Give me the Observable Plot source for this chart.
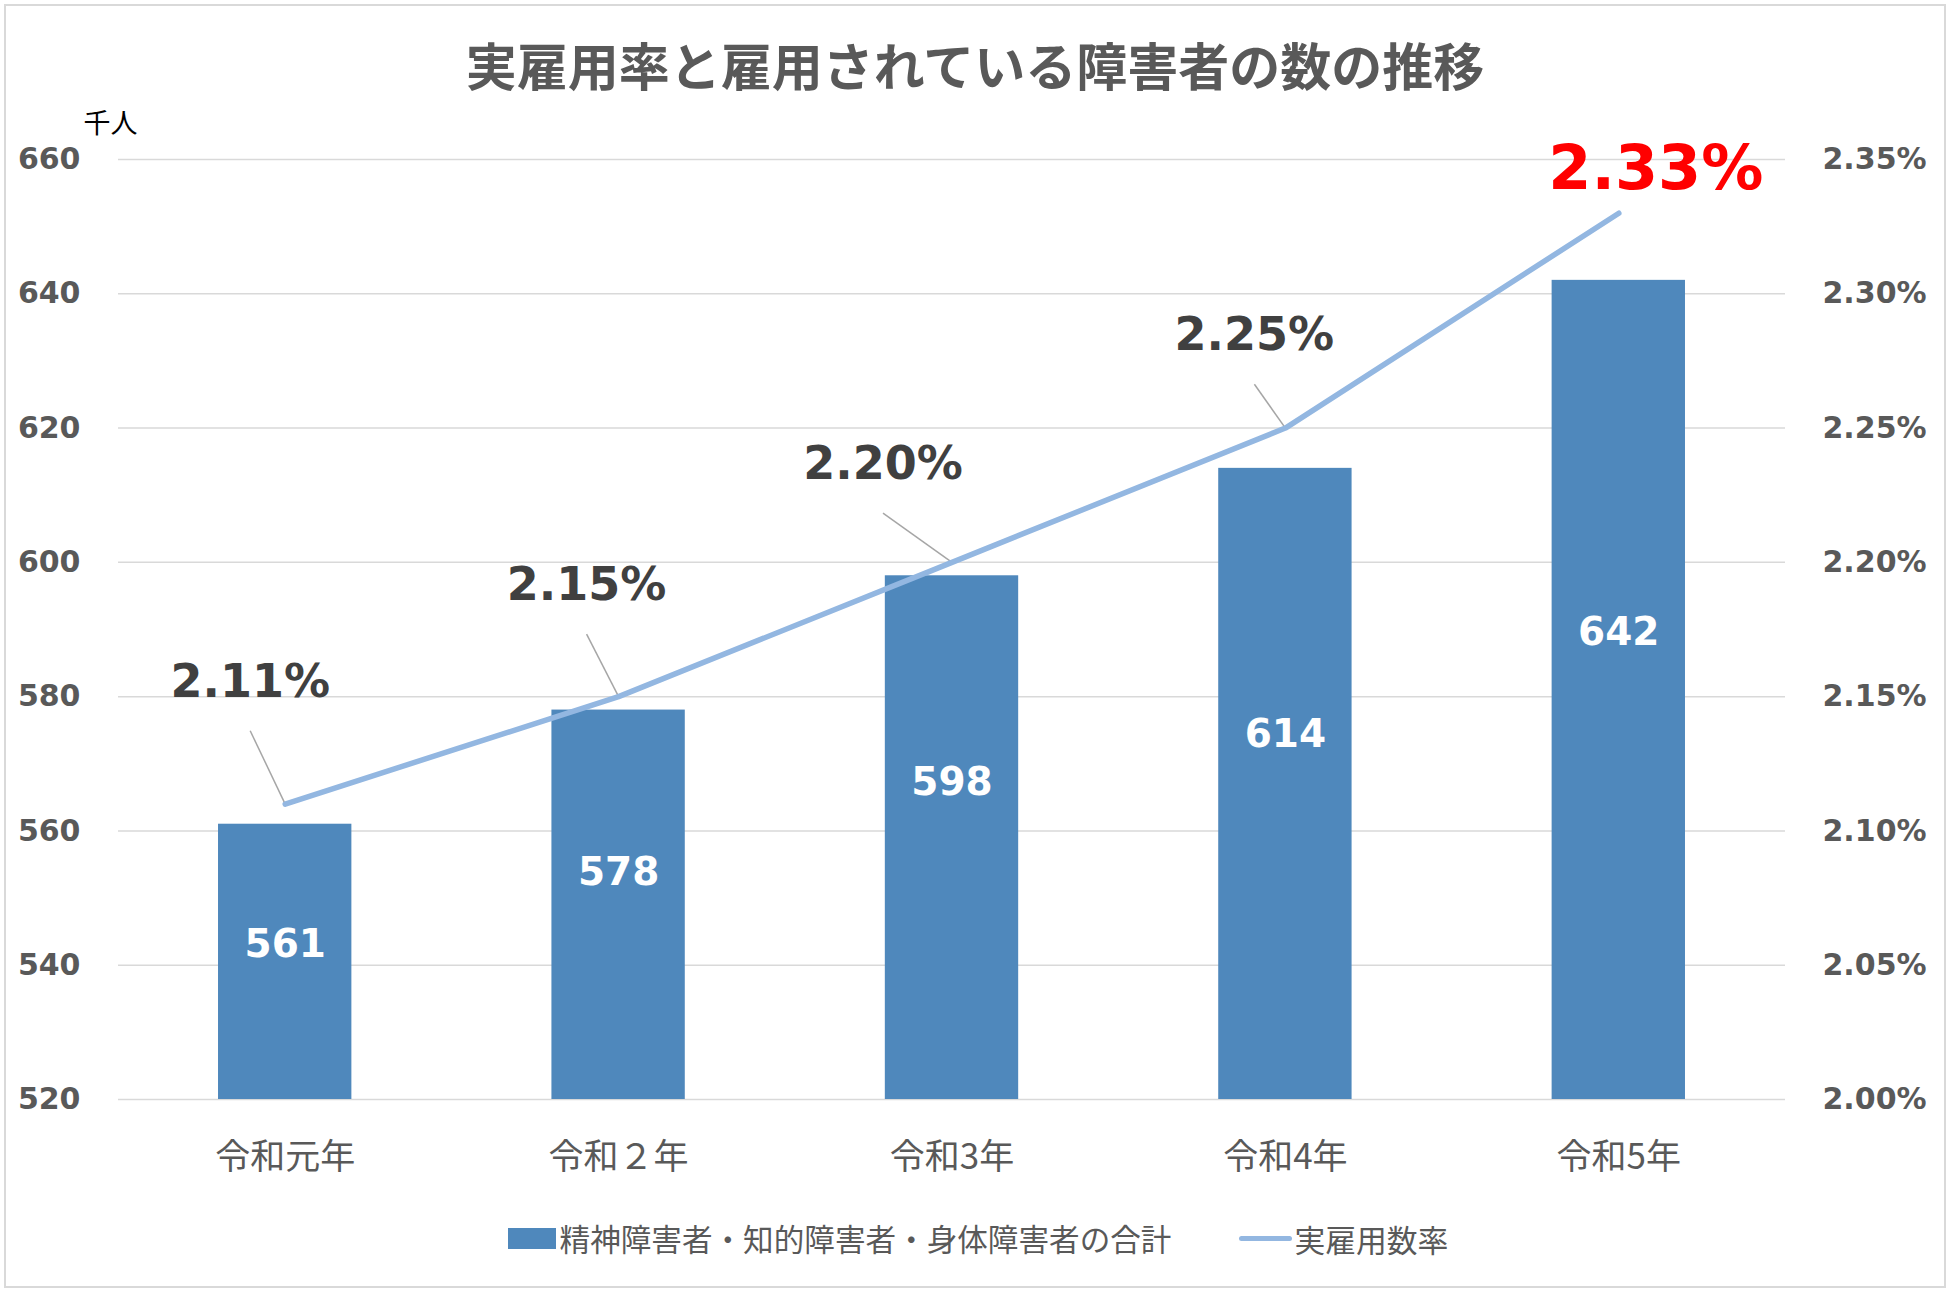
<!DOCTYPE html>
<html lang="ja">
<head>
<meta charset="utf-8">
<script src="https://cdn.jsdelivr.net/npm/d3@7"></script>
<script src="https://cdn.jsdelivr.net/npm/@observablehq/plot@0.6"></script>
<style>
  html, body { margin: 0; padding: 0; background: #fff; }
  #page { position: relative; width: 1950px; height: 1293px; overflow: hidden; background: #fff; }
  #frame { position: absolute; left: 4px; top: 4px; width: 1938px; height: 1280px; border: 2px solid #d9d9d9; pointer-events: none; }
  #title { height: 100px; box-sizing: border-box; padding-top: 39px; text-align: center;
           font-family: "Noto Sans CJK JP", sans-serif; font-weight: 700; font-size: 51px; line-height: 51px; color: #595959; }
  #legend { height: 76px; display: flex; justify-content: center; align-items: center;
            font-family: "Noto Sans CJK JP", sans-serif; color: #595959; padding-left: 6px; }
  .sw-bar { width: 48px; height: 21px; background: #4F88BC; margin-right: 4px; }
  .sw-line { width: 53px; height: 5px; background: #93B7E1; border-radius: 3px; margin-right: 2px; }
  .lg1 { font-size: 30.6px; margin-right: 68px; }
  .lg2 { font-size: 30.8px; }
</style>
</head>
<body>
<div id="page">
  <div id="title"></div>
  <div id="chart"></div>
  <div id="legend"></div>
  <div id="frame"></div>
</div>
<script>
// ---- data ----
const titleText = "実雇用率と雇用されている障害者の数の推移";
const unitLabel = "千人";
const categories = ["令和元年", "令和２年", "令和3年", "令和4年", "令和5年"];
const workers = [561, 578, 598, 614, 642];          // 千人
const rates = [2.11, 2.15, 2.20, 2.25, 2.33];       // %
const leftTicks = [520, 540, 560, 580, 600, 620, 640, 660];
const rightTicks = [2.00, 2.05, 2.10, 2.15, 2.20, 2.25, 2.30, 2.35];
const seriesNames = ["精神障害者・知的障害者・身体障害者の合計", "実雇用数率"];

// annotation placement (as dragged in the original): rate labels (category units, rate units),
// and bar-value labels (fraction of the visible bar height)
const rateLabelShift = [[-0.105, 0.040], [-0.096, 0.036], [-0.207, 0.031], [-0.093, 0.029], [0.111, 0.009]];
const leaderGap = 0.0127;
const barLabelFrac = [0.564, 0.582, 0.606, 0.578, 0.570];

// ---- scales linking the two axes ----
const leftDomain = [leftTicks[0], leftTicks[leftTicks.length - 1]];
const rightDomain = [rightTicks[0], rightTicks[rightTicks.length - 1]];
const rateToY = r => leftDomain[0] + (r - rightDomain[0]) * (leftDomain[1] - leftDomain[0]) / (rightDomain[1] - rightDomain[0]);

const bars = categories.map((c, i) => ({i, c, v: workers[i], f: barLabelFrac[i]}));
const pts = categories.map((c, i) => ({i, c, r: rates[i], dx: rateLabelShift[i][0], dy: rateLabelShift[i][1]}));
const last = pts.length - 1;

const numFont = "DejaVu Sans, Noto Sans CJK JP, sans-serif";
const cjkFont = "Noto Sans CJK JP, sans-serif";

document.getElementById("title").textContent = titleText;

const chart = Plot.plot({
  width: 1950,
  height: 1100,
  marginTop: 59,
  marginBottom: 101,
  marginLeft: 118,
  marginRight: 165,
  style: {fontFamily: numFont, overflow: "visible", background: "transparent"},
  x: {domain: [-0.5, categories.length - 0.5]},
  y: {domain: leftDomain},
  marks: [
    Plot.ruleY(leftTicks, {stroke: "#d9d9d9", strokeWidth: 1.5}),
    Plot.rectY(bars, {x1: d => d.i - 0.2, x2: d => d.i + 0.2, y1: leftDomain[0], y2: "v", fill: "#4F88BC"}),
    Plot.link(pts.slice(0, last), {
      x1: d => d.i + d.dx, y1: d => rateToY(d.r + d.dy - leaderGap),
      x2: "i", y2: d => rateToY(d.r),
      stroke: "#a6a6a6", strokeWidth: 1.5
    }),
    Plot.line(pts, {x: "i", y: d => rateToY(d.r), stroke: "#93B7E1", strokeWidth: 5.5, strokeLinecap: "round", strokeLinejoin: "round"}),
    Plot.text(bars, {
      x: "i", y: d => leftDomain[0] + (d.v - leftDomain[0]) * d.f,
      text: d => String(d.v), fill: "white", fontSize: 39, fontWeight: "bold", fontFamily: numFont
    }),
    Plot.text(pts.slice(0, last), {
      x: d => d.i + d.dx, y: d => rateToY(d.r + d.dy),
      text: d => d.r.toFixed(2) + "%", lineAnchor: "bottom",
      fill: "#404040", fontSize: 46, fontWeight: "bold", fontFamily: numFont
    }),
    Plot.text(pts.slice(last), {
      x: d => d.i + d.dx, y: d => rateToY(d.r + d.dy),
      text: d => d.r.toFixed(2) + "%", lineAnchor: "bottom",
      fill: "#FF0000", fontSize: 62, fontWeight: "bold", fontFamily: numFont
    }),
    Plot.axisY({
      anchor: "left", ticks: leftTicks, tickSize: 0, tickPadding: 38, label: null,
      fontSize: 30, fontWeight: "bold", color: "#595959", fontFamily: numFont
    }),
    Plot.axisY({
      anchor: "right", ticks: rightTicks.map(rateToY), tickSize: 0, tickPadding: 37, label: null,
      tickFormat: (t, k) => rightTicks[k].toFixed(2) + "%",
      fontSize: 30, fontWeight: "bold", color: "#595959", fontFamily: numFont
    }),
    Plot.axisX({
      ticks: categories.map((c, i) => i), tickSize: 0, tickPadding: 45, label: null,
      tickFormat: i => categories[i],
      fontSize: 35, color: "#595959", fontFamily: cjkFont
    }),
    Plot.text([unitLabel], {
      frameAnchor: "top-left", dx: -35, dy: -35, textAnchor: "start", lineAnchor: "middle",
      fontSize: 27, fill: "#000", fontFamily: cjkFont
    })
  ]
});
document.getElementById("chart").appendChild(chart);

const legend = document.getElementById("legend");
legend.innerHTML =
  `<div class="sw-bar"></div><span class="lg1">${seriesNames[0]}</span>` +
  `<div class="sw-line"></div><span class="lg2">${seriesNames[1]}</span>`;
</script>
</body>
</html>
